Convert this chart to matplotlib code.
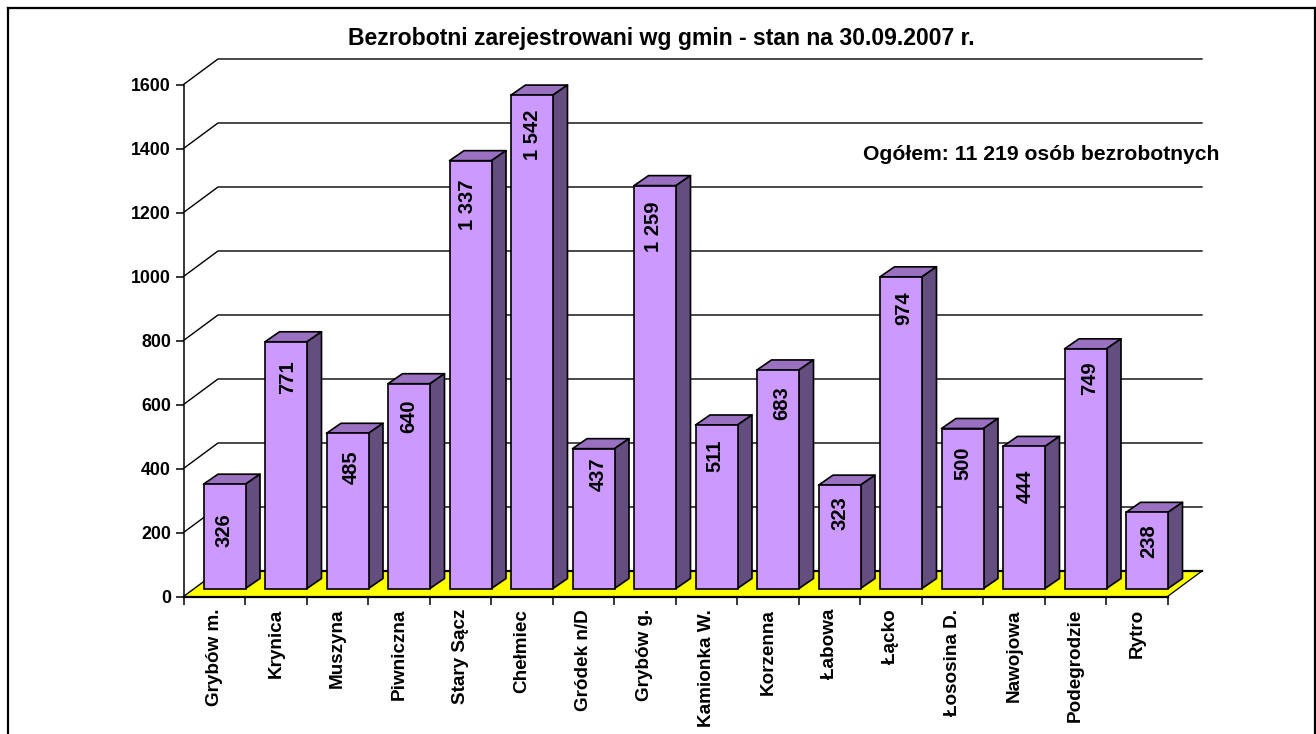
import numpy as np
import matplotlib
matplotlib.use("Agg")
import matplotlib.pyplot as plt
from matplotlib.collections import PolyCollection
from matplotlib.lines import Line2D
from matplotlib.patches import Polygon

plt.rcParams['font.family'] = ['Liberation Sans', 'DejaVu Sans']
plt.rcParams['font.weight'] = 'bold'

# Data
gminy = ["Grybów m.", "Krynica", "Muszyna", "Piwniczna", "Stary Sącz", "Chełmiec",
         "Gródek n/D", "Grybów g.", "Kamionka W.", "Korzenna", "Łabowa", "Łącko",
         "Łososina D.", "Nawojowa", "Podegrodzie", "Rytro"]
bezrobotni = [326, 771, 485, 640, 1337, 1542, 437, 1259, 511, 683, 323, 974, 500, 444, 749, 238]
value_labels = ["326", "771", "485", "640", "1 337", "1 542", "437", "1 259", "511", "683",
                "323", "974", "500", "444", "749", "238"]
y_ticks = [0, 200, 400, 600, 800, 1000, 1200, 1400, 1600]

# Where each label sits relative to the bar top centre, in pixels
label_drop = [46, 35, 34, 33, 44.5, 40, 26, 41, 31, 33, 28, 31, 35, 40, 29, 29]
label_shift = [0, 1.7, 4, 0, -2.7, 0.7, 5, -1.3, -1.3, 4, 0, 2.7, 0, 1, 4, 1.7]

W, H = 1316, 734
fig = plt.figure(figsize=(W / 100, H / 100), dpi=100)
fig.patch.set_facecolor("white")

# Outer frame, open at the bottom like the source
for xs, ys in [((8, 8), (0, H - 8)), ((8, 1315), (H - 8, H - 8)), ((1315, 1315), (H - 8, 0))]:
    fig.add_artist(Line2D(np.array(xs) / W, np.array(ys) / H, color="black", lw=1.6))

# Axes is the front plane of the 3D box
left, right, y0, y1600 = 183.5, 1167.5, 596.5, 84.5
ax = fig.add_axes([left / W, (H - y0) / H, (right - left) / W, (y0 - y1600) / H])
ax.set_xlim(-0.5, 15.5)
ax.set_ylim(0, 1600)
ax.patch.set_visible(False)

unit_x = (right - left) / 16
unit_y = (y0 - y1600) / 1600
depth_x = 34.5 / unit_x   # wall depth in category units
depth_y = 25.5 / unit_y   # wall depth in value units

# Bar placement inside the box
bar_w = 42 / unit_x
bar_left_gap = 20 / unit_x
bar_base = 8 / unit_y
bar_dx = 14.5 / unit_x
bar_dy = 10 / unit_y

# Floor
floor = [(-0.5, 0), (15.5, 0), (15.5 + depth_x, depth_y), (-0.5 + depth_x, depth_y)]
ax.add_patch(Polygon(floor, closed=True, facecolor="#FFFF00", edgecolor="none", zorder=1, clip_on=False))
ax.plot([-0.5 + depth_x, 15.5 + depth_x], [depth_y, depth_y], color="black", lw=1.6, zorder=2, clip_on=False)
ax.plot([15.5, 15.5 + depth_x], [0, depth_y], color="black", lw=0.9, zorder=2, clip_on=False)

# Grid on the side wall and back wall
for v in y_ticks:
    if v == 0:
        continue
    ax.plot([-0.5, -0.5 + depth_x, 15.5 + depth_x], [v, v + depth_y, v + depth_y],
            color="black", lw=1.0, zorder=2, clip_on=False)
ax.plot([-0.5, -0.5 + depth_x], [0, depth_y], color="black", lw=1.0, zorder=2, clip_on=False)

# Bars
x = np.arange(len(gminy))
vals = np.array(bezrobotni, dtype=float)
bar_x0 = x - 0.5 + bar_left_gap
ax.bar(bar_x0, vals, width=bar_w, bottom=bar_base, align="edge", color="#CC99FF",
       edgecolor="black", linewidth=1.2, zorder=4, clip_on=False)

tops, sides = [], []
for x0, v in zip(bar_x0, vals):
    x1 = x0 + bar_w
    t = bar_base + v
    tops.append([(x0, t), (x1, t), (x1 + bar_dx, t + bar_dy), (x0 + bar_dx, t + bar_dy)])
    sides.append([(x1, bar_base), (x1 + bar_dx, bar_base + bar_dy), (x1 + bar_dx, t + bar_dy), (x1, t)])
ax.add_collection(PolyCollection(tops, facecolors="#9A70C0", edgecolors="black", linewidths=1.2,
                                 zorder=3.5, clip_on=False))
ax.add_collection(PolyCollection(sides, facecolors="#644D7F", edgecolors="black", linewidths=1.2,
                                 zorder=3.5, clip_on=False))

# Value labels inside the bars
for x0, v, lab, drop, shift in zip(bar_x0, vals, value_labels, label_drop, label_shift):
    ax.annotate(lab, xy=(x0 + bar_w / 2, bar_base + v), xytext=(shift * 0.72, -drop * 0.72),
                textcoords="offset points", rotation=90, ha="center", va="center",
                fontsize=14.5, color="black", zorder=6)

# Axes lines and ticks
for s in ["top", "right"]:
    ax.spines[s].set_visible(False)
ax.spines["left"].set_linewidth(1.1)
ax.spines["bottom"].set_linewidth(1.6)
ax.spines["left"].set_zorder(5)
ax.spines["bottom"].set_zorder(5)
ax.set_yticks(y_ticks)
ax.set_yticklabels([str(v) for v in y_ticks], fontsize=12.8)
ax.tick_params(axis="y", length=6, width=1.1, pad=3)
ax.set_xticks(np.arange(-0.5, 16, 1))
ax.set_xticklabels([])
ax.tick_params(axis="x", which="major", length=5.5, width=1.1)
ax.set_xticks(x, minor=True)
ax.set_xticklabels(gminy, minor=True, rotation=90, fontsize=13.6, ha="center", va="top")
ax.tick_params(axis="x", which="minor", length=0, pad=9)

fig.text(661 / W, 1 - 39 / H, "Bezrobotni zarejestrowani wg gmin - stan na 30.09.2007 r.",
         ha="center", va="center", fontsize=16.6, color="black")
fig.text(1041.5 / W, 1 - 155 / H, "Ogółem: 11 219 osób bezrobotnych",
         ha="center", va="center", fontsize=15.2, color="black")

fig.savefig("out.png", dpi=100)
